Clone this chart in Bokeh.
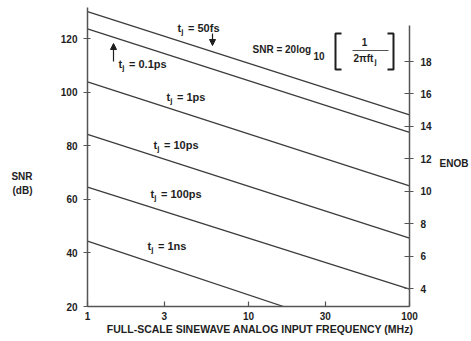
from bokeh.plotting import figure
from bokeh.models import (Range1d, LinearAxis, LogAxis, FixedTicker, PrintfTickFormatter,
                          Label, Arrow, NormalHead)
from bokeh.embed import file_html
from bokeh.resources import INLINE

# ---- data ----
freq_mhz = [1, 100]
freq_1ns = [1, 16.5]
snr_50fs = [130.0, 91.5]
snr_01ps = [123.6, 85.0]
snr_1ps = [103.8, 65.0]
snr_10ps = [84.2, 45.5]
snr_100ps = [64.5, 26.5]
snr_1ns = [44.4, 20.0]

x_ticks = [1, 3, 10, 30, 100]
y_ticks = [20, 40, 60, 80, 100, 120]
enob_ticks = [4, 6, 8, 10, 12, 14, 16, 18]

# ---- layout helpers (pixel -> data), decoration only ----
FX0, FX1 = 87, 409          # frame left/right
def px2x(px):
    return 10 ** (2.0 * (px - FX0) / (FX1 - FX0))
def px2y(py):
    return 20 + (306 - py) / 2.68

FONT = "Liberation Sans"
TXT = "#1e1e1e"
LINE = "#3c3c3c"
AX = "#555555"

p = figure(width=471, height=341, x_axis_type="log",
           x_range=Range1d(1, 100), y_range=Range1d(20, px2y(7)),
           output_backend="svg", toolbar_location=None,
           min_border_left=87, min_border_right=62,
           min_border_top=7, min_border_bottom=35)
p.outline_line_color = None
p.xgrid.visible = False
p.ygrid.visible = False

# axes
xa = p.xaxis[0]
xa.ticker = FixedTicker(ticks=x_ticks)
xa.formatter = PrintfTickFormatter(format="%d")
xa.major_tick_in = 5
xa.major_tick_out = 0
xa.major_label_standoff = 5
ya = p.yaxis[0]
ya.ticker = FixedTicker(ticks=y_ticks)
ya.major_tick_in = 3
ya.major_tick_out = 4
ya.major_label_standoff = 6

p.extra_y_ranges = {"enob": Range1d(2.89, 4 + (288 - 7) / 16.21)}
ra = LinearAxis(y_range_name="enob", ticker=FixedTicker(ticks=enob_ticks),
                bounds=(2.89, 20.22))
ra.major_tick_in = 5
ra.major_tick_out = 4
ra.major_label_standoff = 7
ra.axis_label = "\nENOB"
ra.axis_label_orientation = "horizontal"
ra.axis_label_standoff = 5
p.add_layout(ra, "right")

for ax in (xa, ya, ra):
    ax.minor_tick_line_color = None
    ax.axis_line_color = AX
    ax.axis_line_width = 1.5
    ax.major_tick_line_color = AX
    ax.major_tick_line_width = 1.2
    ax.major_label_text_font = FONT
    ax.major_label_text_font_style = "bold"
    ax.major_label_text_font_size = "10px"
    ax.major_label_text_color = TXT

# label-only axes (positioned titles)
snr_ax = LinearAxis(ticker=FixedTicker(ticks=[]),
                    axis_line_color=None, major_tick_line_color=None,
                    minor_tick_line_color=None)
snr_ax.axis_label = "\n\n\n\nSNR\n(dB)"
snr_ax.axis_label_orientation = "horizontal"
snr_ax.axis_label_standoff = 25
p.add_layout(snr_ax, "left")

fx_ax = LogAxis(ticker=FixedTicker(ticks=[]),
                axis_line_color=None, major_tick_line_color=None,
                minor_tick_line_color=None)
fx_ax.axis_label = "\u00a0" * 8 + "FULL-SCALE SINEWAVE ANALOG INPUT FREQUENCY (MHz)"
fx_ax.axis_label_standoff = 0
p.add_layout(fx_ax, "below")

for ax in (ra, snr_ax, fx_ax):
    ax.axis_label_text_font = FONT
    ax.axis_label_text_font_style = "bold"
    ax.axis_label_text_font_size = "10px"
    ax.axis_label_text_color = TXT
fx_ax.axis_label_text_font_size = "10.5px"

# data lines
for ys in (snr_50fs, snr_01ps, snr_1ps, snr_10ps, snr_100ps):
    p.line(freq_mhz, ys, line_color=LINE, line_width=1.3)
p.line(freq_1ns, snr_1ns, line_color=LINE, line_width=1.3)

def lab(px, py, text, size="11px", align="left", baseline="middle"):
    p.add_layout(Label(x=px2x(px), y=px2y(py), text=text,
                       text_font=FONT, text_font_style="bold",
                       text_font_size=size, text_color=TXT,
                       text_align=align, text_baseline=baseline))

def tj(px, py, rest):
    lab(px, py, "t")
    lab(px + 3.8, py + 4, "j", size="8px")
    lab(px + 10.5, py, rest)

tj(177, 27, "= 50fs")
tj(118, 63, "= 0.1ps")
tj(166, 96, "= 1ps")
tj(153, 144, "= 10ps")
tj(150, 193, "= 100ps")
tj(147, 245, "= 1ns")

# arrows
p.add_layout(Arrow(end=NormalHead(size=6, fill_color=TXT, line_color=TXT),
                   x_start=px2x(212), y_start=px2y(33),
                   x_end=px2x(212), y_end=px2y(45),
                   line_color=TXT, line_width=1.2))
p.add_layout(Arrow(end=NormalHead(size=6, fill_color=TXT, line_color=TXT),
                   x_start=px2x(113), y_start=px2y(61),
                   x_end=px2x(113), y_end=px2y(43),
                   line_color=TXT, line_width=1.2))

# formula
lab(252, 49, "SNR = 20log", size="10px")
lab(313, 55, "10", size="10px")
lab(364, 41, "1", size="10px", align="center")
lab(353, 58, "2\u03c0ft", size="10px")
lab(374, 61, "j", size="8px")
bx = [[px2x(341), px2x(335), px2x(335), px2x(341)],
      [px2x(387), px2x(393), px2x(393), px2x(387)]]
by = [[px2y(33), px2y(33), px2y(69), px2y(69)],
      [px2y(33), px2y(33), px2y(69), px2y(69)]]
p.multi_line(bx, by, line_color=TXT, line_width=2)
p.line([px2x(352), px2x(388)], [px2y(50), px2y(50)], line_color=AX, line_width=1)

open("out.html", "w").write(file_html(p, INLINE))
